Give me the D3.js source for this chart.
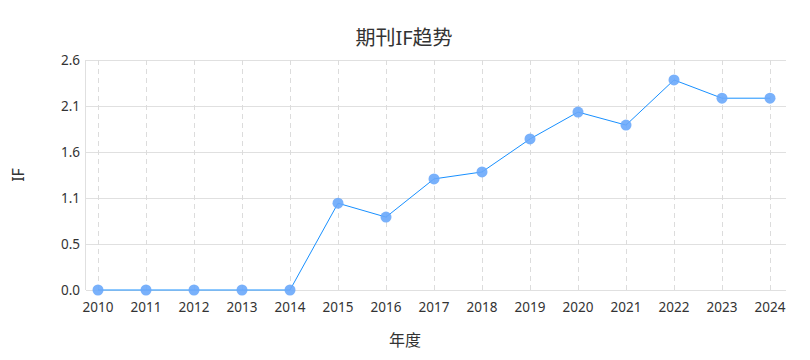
<!DOCTYPE html>
<html>
<head>
<meta charset="utf-8">
<script src="https://cdn.jsdelivr.net/npm/d3@7/dist/d3.min.js"></script>
<style>
  body { margin: 0; background: #fff; }
  text { font-family: "Noto Sans", "Noto Sans CJK SC", sans-serif; fill: #333; }
</style>
</head>
<body>
<div id="chart"></div>
<script>
// data
var years = ["2010","2011","2012","2013","2014","2015","2016","2017","2018","2019","2020","2021","2022","2023","2024"];
var ifValues = [0, 0, 0, 0, 0, 1.0, 0.84, 1.28, 1.36, 1.74, 2.05, 1.90, 2.42, 2.21, 2.21];
var yTicks = [0, 0.53, 1.06, 1.59, 2.12, 2.65];
var yTickLabels = ["0.0", "0.5", "1.1", "1.6", "2.1", "2.6"];

var width = 810, height = 360;
var plotLeft = 86, plotRight = 786, plotTop = 60, plotBottom = 290;

var svg = d3.select("#chart").append("svg")
    .attr("width", width)
    .attr("height", height);

var x = d3.scalePoint()
    .domain(years)
    .range([98, 770]);

var y = d3.scaleLinear()
    .domain([0, yTicks[yTicks.length - 1]])
    .range([plotBottom, plotTop]);

// horizontal grid
svg.append("g").selectAll("line")
    .data(yTicks)
  .enter().append("line")
    .attr("x1", plotLeft).attr("x2", plotRight)
    .attr("y1", function(d) { return Math.round(y(d)) + 0.5; })
    .attr("y2", function(d) { return Math.round(y(d)) + 0.5; })
    .attr("stroke", "#e0e0e0");

// vertical dashed grid
svg.append("g").selectAll("line")
    .data(years)
  .enter().append("line")
    .attr("x1", function(d) { return Math.round(x(d)) + 0.5; })
    .attr("x2", function(d) { return Math.round(x(d)) + 0.5; })
    .attr("y1", plotTop).attr("y2", plotBottom)
    .attr("stroke", "#dcdcdc")
    .attr("stroke-dasharray", "5,4");

// left border
svg.append("line")
    .attr("x1", plotLeft - 0.5).attr("x2", plotLeft - 0.5)
    .attr("y1", plotTop).attr("y2", plotBottom)
    .attr("stroke", "#e0e0e0");

// y labels
svg.append("g").selectAll("text")
    .data(yTicks)
  .enter().append("text")
    .attr("x", plotLeft - 6)
    .attr("y", function(d) { return y(d); })
    .attr("dy", "0.35em")
    .attr("text-anchor", "end")
    .style("font-size", "13.5px")
    .text(function(d, i) { return yTickLabels[i]; });

// x labels
svg.append("g").selectAll("text")
    .data(years)
  .enter().append("text")
    .attr("x", function(d) { return x(d); })
    .attr("y", plotBottom + 22)
    .attr("text-anchor", "middle")
    .style("font-size", "13.5px")
    .text(function(d) { return d; });

// line
var line = d3.line()
    .x(function(d, i) { return x(years[i]); })
    .y(function(d) { return y(d); });

svg.append("path")
    .datum(ifValues)
    .attr("fill", "none")
    .attr("stroke", "#1890ff")
    .attr("stroke-width", 1)
    .attr("d", line);

svg.append("g").selectAll("circle")
    .data(ifValues)
  .enter().append("circle")
    .attr("cx", function(d, i) { return x(years[i]); })
    .attr("cy", function(d) { return y(d); })
    .attr("r", 5.5)
    .attr("fill", "#6aa8fb")
    .attr("fill-opacity", 0.9);

// title
svg.append("text")
    .attr("x", 404)
    .attr("y", 45)
    .attr("text-anchor", "middle")
    .style("font-size", "20px")
    .text("期刊IF趋势");

// axis titles
svg.append("text")
    .attr("x", 405)
    .attr("y", 346)
    .attr("text-anchor", "middle")
    .style("font-size", "16px")
    .text("年度");

svg.append("text")
    .attr("transform", "translate(24," + ((plotTop + plotBottom) / 2) + ") rotate(-90)")
    .attr("text-anchor", "middle")
    .style("font-size", "16px")
    .text("IF");
</script>
</body>
</html>
